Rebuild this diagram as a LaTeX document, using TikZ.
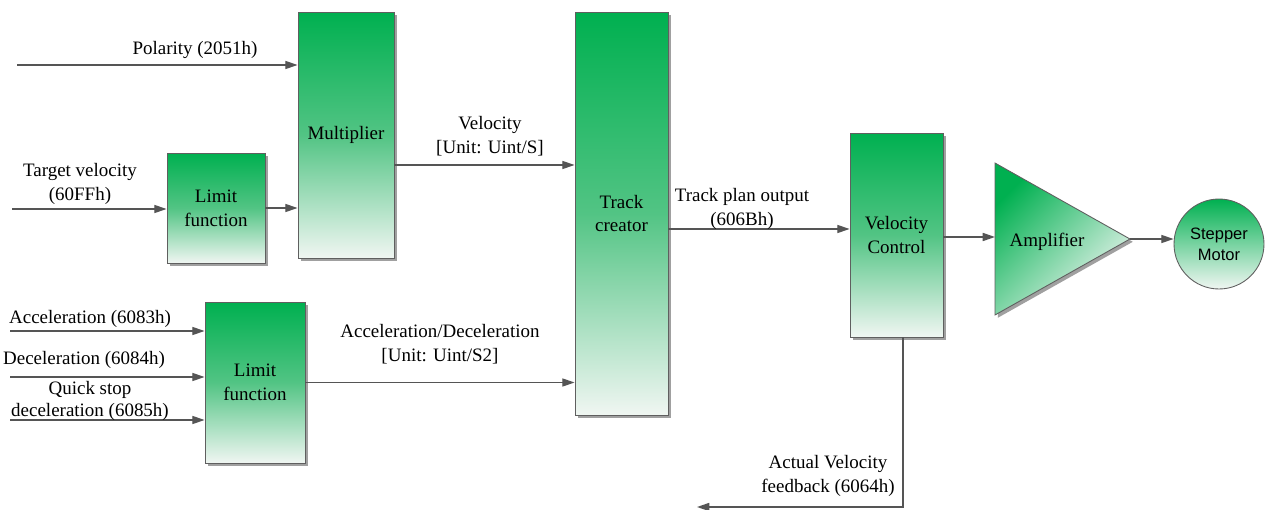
\documentclass[tikz,border=0pt]{standalone}
\usepackage{fontspec}
\setmainfont{Liberation Serif}
\newfontfamily\labelfont{Liberation Serif}
\newfontfamily\motorfont{Liberation Sans}
\usepackage{xcolor}
\definecolor{blockgreen}{RGB}{0,176,80}
\definecolor{blockmid}{RGB}{82,196,132}
\definecolor{blockpale}{RGB}{240,246,242}
\definecolor{blockdraw}{RGB}{95,95,95}
\definecolor{blockshadow}{RGB}{160,160,160}
\definecolor{signaldraw}{RGB}{85,85,85}
\usetikzlibrary{positioning,arrows.meta,shapes.geometric,shadows}

\begin{document}
\begin{tikzpicture}[
  x=0.02cm, y=-0.02cm,
  >={Triangle[length=7pt,width=4.6pt]},
  every node/.style={align=center, inner sep=1pt, font=\labelfont\fontsize{10.8}{13.5}\selectfont},
  block/.style   ={rectangle, draw=blockdraw, line width=0.5pt, top color=blockgreen, bottom color=blockpale, middle color=blockmid,
                   drop shadow={shadow xshift=1.6pt, shadow yshift=-1.6pt, fill=blockshadow, opacity=1}},
  ampblock/.style={isosceles triangle, isosceles triangle stretches, shape border rotate=0, inner sep=0pt, outer sep=0pt,
                   minimum width=3.04cm, minimum height=2.7cm, draw=blockdraw, line width=0.5pt,
                   top color=blockgreen, bottom color=blockpale, shading angle=45,
                   drop shadow={shadow xshift=1.6pt, shadow yshift=-1.6pt, fill=blockshadow, opacity=1}},
  motorblock/.style={circle, minimum size=1.8cm, draw=blockdraw, line width=0.5pt, top color=blockgreen, bottom color=blockpale,
                   font=\motorfont\fontsize{9.4}{12}\selectfont},
  flow/.style    ={->, line width=0.8pt, draw=signaldraw}
]
\path[fill=white, use as bounding box] (0,0) rectangle (1265,510);

\node[block, minimum width=1.92cm, minimum height=4.92cm] (mult)   at (346,135)   {Multiplier};
\node[block, minimum width=1.96cm, minimum height=2.2cm]  (lim1)   at (216,208)   {Limit\\function};
\node[block, minimum width=2.0cm,  minimum height=3.22cm] (lim2)   at (255,382.5) {Limit\\function};
\node[block, minimum width=1.86cm, minimum height=8.06cm] (track)  at (621.5,213.5) {Track\\creator};
\node[block, minimum width=1.86cm, minimum height=4.08cm] (velctl) at (896.5,235) {Velocity\\Control};
\node[ampblock, anchor=lower side] (amp) at (995,239) {};
\node (amptxt) at (1047,242) {Amplifier};
\node[motorblock] (motor) at (1219,244) {Stepper\\Motor};

% free ends of the input signals
\coordinate (polin) at (17,65);
\coordinate (tvin)  at (12,209);
\coordinate (accin) at (10,331);
\coordinate (decin) at (10,377);
\coordinate (qsin)  at (10,420);
\coordinate (fbout) at (697,507);

\draw[flow] (polin) -- (polin -| mult.west);
\draw[flow] (tvin) -- (tvin -| lim1.west);
\draw[flow] (lim1.east) -- (lim1.east -| mult.west);
\draw[flow] ([yshift=-0.6cm]mult.east) -- ([yshift=-0.6cm]mult.east -| track.west);

\draw[flow] (accin) -- (accin -| lim2.west);
\draw[flow] (decin) -- (decin -| lim2.west);
\draw[flow] (qsin)  -- (qsin -| lim2.west);
\draw[flow] (lim2.east) -- (lim2.east -| track.west);

\draw[flow] ([yshift=-0.31cm]track.east) -- ([yshift=-0.31cm]track.east -| velctl.west);
\draw[flow] ([yshift=-0.04cm]velctl.east) -- ([yshift=-0.04cm]velctl.east -| amp.lower side);
\draw[flow] (amp.apex) -- (amp.apex -| motor.west);
\draw[flow] ([xshift=0.13cm]velctl.south) |- (fbout);

\node (pollbl) at (195,50)  {Polarity (2051h)};
\node (tvlbl)  at (80,184)  {Target velocity\\(60FFh)};
\node (vellbl) at (490,136) {Velocity\\{}[Unit: Uint/S]};
\node (acclbl) at (90,319)  {Acceleration (6083h)};
\node (declbl) at (84,360)  {Deceleration (6084h)};
\node[font=\labelfont\fontsize{10.8}{12.8}\selectfont] (qslbl) at (90,401) {Quick stop\\deceleration (6085h)};
\node (adlbl)  at (440,344) {Acceleration/Deceleration\\{}[Unit: Uint/S2]};
\node (tplbl)  at (742,209) {Track plan output\\(606Bh)};
\node (fblbl)  at (828,476) {Actual Velocity\\feedback (6064h)};

\end{tikzpicture}
\end{document}
